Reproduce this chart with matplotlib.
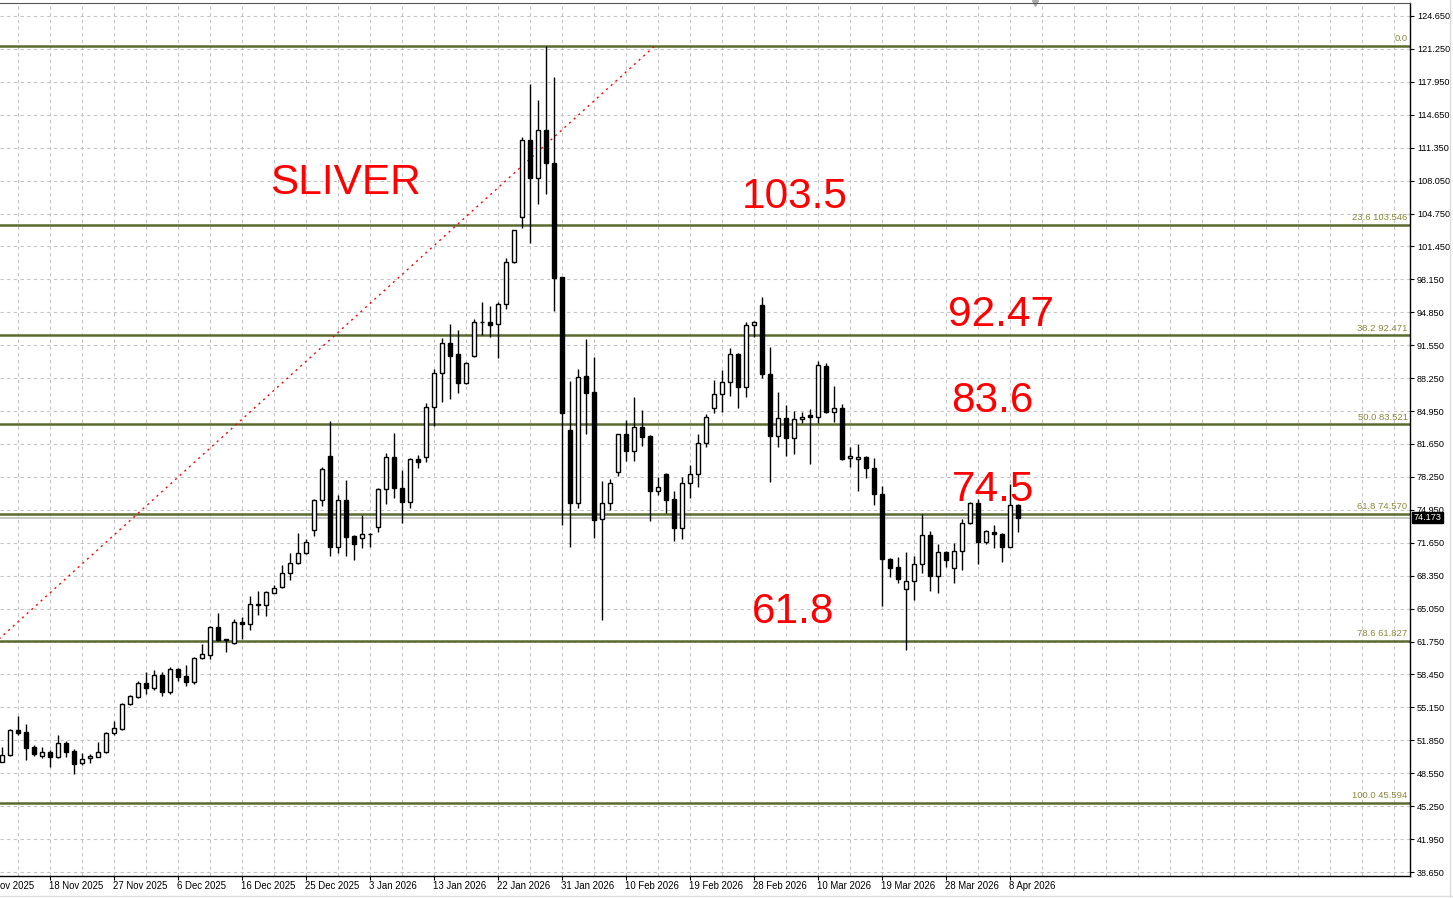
import matplotlib
matplotlib.use('Agg')
import matplotlib.pyplot as plt
from matplotlib.lines import Line2D

# daily candles, oldest first (index 0 = first bar on screen)
opens = [49.71, 50.35, 52.88, 52.68, 51.15, 50.31, 50.65, 50.18, 51.55, 50.78,
         49.55, 50.05, 50.21, 50.65, 52.55, 52.98, 55.46, 56.22, 57.56, 57.06,
         58.40, 56.66, 59.00, 58.30, 57.73, 60.07, 60.40, 63.18, 62.00, 61.58,
         63.68, 63.48, 65.50, 65.38, 66.65, 67.25, 68.65, 69.59, 70.60, 72.93,
         75.94, 80.35, 71.26, 75.94, 72.33, 72.10, 72.50, 73.20, 77.01, 80.22,
         77.11, 75.71, 80.01, 80.22, 85.23, 88.64, 91.65, 90.57, 87.70, 90.40,
         93.75, 93.75, 93.55, 95.56, 99.76, 104.34, 112.03, 108.18, 113.03, 109.69,
         98.26, 82.96, 75.67, 88.36, 86.73, 74.00, 75.61, 78.78, 82.53, 80.88,
         83.29, 82.35, 76.87, 78.55, 76.04, 73.09, 77.61, 78.51, 81.62, 85.13,
         86.53, 87.74, 90.57, 87.30, 93.48, 95.49, 88.54, 82.39, 84.13, 82.19,
         84.03, 84.46, 84.29, 89.37, 84.73, 85.13, 80.12, 80.05, 80.22, 79.12,
         76.54, 69.99, 69.19, 67.02, 67.82, 69.49, 72.43, 68.35, 70.70, 69.09,
         70.86, 73.60, 75.61, 71.76, 72.76, 72.53, 71.26, 75.44]
highs = [51.15, 52.98, 54.29, 53.49, 51.35, 51.15, 50.88, 52.38, 51.78, 50.98,
         50.55, 50.45, 51.71, 52.71, 53.79, 55.56, 56.39, 57.80, 58.67, 58.90,
         58.67, 59.17, 59.10, 59.40, 60.23, 61.47, 63.33, 64.64, 62.05, 64.01,
         64.24, 66.35, 66.82, 66.82, 67.42, 69.42, 70.60, 72.60, 72.00, 76.04,
         79.22, 83.86, 76.44, 77.94, 72.43, 74.44, 72.66, 77.10, 80.68, 82.69,
         78.95, 80.11, 80.45, 85.63, 89.05, 92.15, 93.58, 92.98, 89.80, 94.05,
         95.76, 95.42, 95.76, 100.16, 103.00, 112.30, 117.64, 116.06, 121.45, 118.31,
         98.30, 87.86, 89.07, 92.08, 90.24, 77.84, 78.04, 82.60, 83.96, 86.24,
         84.96, 82.50, 78.28, 78.60, 76.87, 78.28, 79.45, 82.52, 84.53, 87.97,
         88.97, 91.15, 90.70, 93.81, 93.91, 96.32, 91.25, 86.74, 85.46, 84.86,
         84.79, 85.06, 89.87, 89.70, 87.37, 85.56, 81.28, 81.55, 80.30, 80.12,
         77.37, 70.10, 70.26, 70.76, 70.36, 74.50, 72.83, 71.53, 70.86, 71.60,
         74.03, 75.77, 76.04, 72.90, 73.43, 72.60, 77.54, 75.55]
lows = [49.65, 50.30, 52.38, 49.88, 50.31, 50.11, 49.20, 50.11, 50.21, 48.47,
        49.38, 49.55, 50.15, 50.60, 52.38, 52.90, 55.40, 56.12, 56.46, 56.90,
        56.32, 56.49, 57.83, 57.33, 57.46, 59.97, 59.97, 61.85, 60.67, 61.50,
        62.01, 62.91, 64.41, 64.34, 66.60, 67.09, 67.92, 69.50, 70.50, 72.33,
        75.34, 70.36, 70.60, 70.36, 69.93, 71.16, 71.26, 72.76, 75.51, 76.17,
        73.66, 75.11, 79.18, 79.78, 83.36, 85.79, 86.06, 86.70, 87.60, 90.30,
        92.48, 92.25, 90.20, 95.05, 99.70, 103.17, 101.73, 105.58, 106.65, 94.91,
        73.43, 71.26, 75.17, 82.56, 72.09, 63.91, 74.94, 78.37, 79.88, 79.88,
        81.38, 73.86, 76.44, 74.61, 71.86, 71.99, 76.17, 77.21, 81.28, 84.69,
        84.79, 86.39, 85.13, 86.24, 92.25, 88.14, 77.77, 81.28, 80.38, 80.52,
        83.63, 79.52, 83.69, 84.70, 83.79, 79.95, 79.28, 76.87, 78.11, 75.44,
        65.34, 68.25, 67.59, 60.90, 65.92, 68.59, 66.85, 66.59, 69.20, 67.59,
        68.92, 73.50, 69.49, 71.50, 71.09, 69.69, 71.20, 72.76]
closes = [50.35, 52.88, 52.61, 51.11, 50.45, 50.65, 50.21, 51.55, 50.71, 49.51,
          49.95, 50.28, 50.65, 52.55, 53.05, 55.49, 56.29, 57.56, 57.06, 58.37,
          56.72, 58.97, 58.17, 57.73, 60.07, 60.47, 63.18, 61.91, 61.91, 63.68,
          63.48, 65.48, 65.38, 66.69, 67.09, 68.65, 69.59, 70.60, 71.70, 75.94,
          79.05, 71.26, 75.94, 72.26, 71.50, 72.50, 72.52, 77.01, 80.22, 77.11,
          75.71, 80.01, 79.78, 85.23, 88.64, 91.65, 90.37, 87.70, 89.64, 93.75,
          93.77, 93.48, 95.56, 99.76, 102.95, 112.03, 108.18, 113.03, 109.69, 98.16,
          84.63, 75.67, 88.30, 86.70, 73.93, 75.61, 77.61, 82.53, 80.88, 83.29,
          82.29, 76.87, 77.21, 75.94, 73.09, 77.61, 78.51, 81.62, 84.29, 86.53,
          87.74, 90.57, 87.30, 93.48, 93.75, 88.57, 82.39, 84.13, 82.19, 84.03,
          84.29, 84.29, 89.47, 84.73, 85.13, 80.05, 80.38, 80.22, 79.12, 76.51,
          69.99, 69.15, 67.98, 67.82, 69.49, 72.43, 68.35, 70.70, 69.93, 70.86,
          73.60, 75.61, 71.76, 72.86, 72.49, 71.26, 75.44, 74.17]

last_price = 74.173

# date axis
date_pos = [-2, 6, 14, 22, 30, 38, 46, 54, 62, 70, 78, 86, 94, 102, 110, 118, 126]
date_labels = ['9 Nov 2025', '18 Nov 2025', '27 Nov 2025', '6 Dec 2025', '16 Dec 2025',
               '25 Dec 2025', '3 Jan 2026', '13 Jan 2026', '22 Jan 2026', '31 Jan 2026',
               '10 Feb 2026', '19 Feb 2026', '28 Feb 2026', '10 Mar 2026', '19 Mar 2026',
               '28 Mar 2026', '8 Apr 2026']

# price axis
price_ticks = [38.65 + 3.3 * k for k in range(27)]
price_labels = ['38.650', '41.950', '45.250', '48.550', '51.850', '55.150', '58.450',
                '61.750', '65.050', '68.350', '71.650', '74.950', '78.250', '81.650',
                '84.950', '88.250', '91.550', '94.850', '98.150', '101.450', '104.750',
                '108.050', '111.350', '114.650', '117.950', '121.250', '124.650']

# fibonacci retracement
fib_low = 45.594
fib_high = 121.447
fib_ratios = [0.0, 23.6, 38.2, 50.0, 61.8, 78.6, 100.0]
fib_anchor = [-23, 81.6]

notes = ['SLIVER', '103.5', '92.47', '83.6', '74.5', '61.8']
note_x = [33.5, 92.5, 118.2, 118.7, 118.7, 93.7]
note_y = [106.6, 105.2, 93.4, 84.8, 75.85, 63.6]

small = 'Liberation Sans'

W, H = 1453, 898
fig = plt.figure(figsize=(W / 100, H / 100), dpi=100)
ax = fig.add_axes([0, 22 / H, 1410 / W, 873 / H])
ax.set_xlim(-0.25, 176)
ax.set_ylim(38.25, 125.75)

olive = '#5b6b2d'
for r in fib_ratios:
    lvl = fib_high - (fib_high - fib_low) * r / 100
    ax.axhline(lvl, color=olive, lw=1.8, zorder=2)
    lab = '%.1f' % r if r == 0 else '%.1f %.3f' % (r, lvl + 1e-6)
    ax.text(175.7, lvl + 0.25, lab, ha='right', va='bottom', fontsize=6.8,
            family=small, color='#8a8a3c', zorder=3)

ax.axhline(last_price, color='#bdbdbd', lw=1.2, zorder=2)

ax.plot(fib_anchor, [fib_low, fib_high], color='red', lw=1, ls=(0, (1.5, 3)), zorder=2)

n = len(opens)
xs = list(range(n))
ax.vlines(xs, lows, highs, color='black', lw=1, zorder=4)
for i in xs:
    o, c = opens[i], closes[i]
    up = c >= o
    ax.bar(i, max(abs(c - o), 0.05), bottom=min(o, c), width=0.62,
           facecolor='white' if up else 'black', edgecolor='black', lw=1, zorder=5)

for t, x, y in zip(notes, note_x, note_y):
    ax.text(x, y, t, fontsize=30.5, color='red', family='Liberation Sans',
            ha='left', va='baseline', zorder=6)

# grid
for gx in range(2, 176, 4):
    ax.axvline(gx, color='#c4c4c4', lw=0.8, ls=(0, (3, 3)), zorder=1)
for gy in price_ticks:
    ax.axhline(gy, color='#c4c4c4', lw=0.8, ls=(0, (3, 3)), zorder=1)

ax.yaxis.tick_right()
ax.set_yticks(price_ticks)
ax.set_yticklabels(price_labels, family=small)
ax.tick_params(axis='y', length=3, width=0.8, pad=2, labelsize=6.6, colors='black')
ax.set_xticks(date_pos[1:])
ax.set_xticklabels([])
ax.tick_params(axis='x', length=3, width=0.8)
for p, lab in zip(date_pos, date_labels):
    ax.text(p - 0.15, -0.006, lab, transform=ax.get_xaxis_transform(), ha='left',
            va='top', fontsize=6.9, family=small, clip_on=False)

ax.text(1.0025, last_price, '%.3f' % last_price, transform=ax.get_yaxis_transform(),
        ha='left', va='center', fontsize=6.6, family=small, color='white', clip_on=False,
        bbox=dict(boxstyle='square,pad=0.15', fc='black', ec='black'))

ax.spines['left'].set_visible(False)
ax.spines['top'].set_color('#555555')
ax.spines['right'].set_linewidth(1)
ax.spines['bottom'].set_linewidth(1)

# shift marker and window frame
ax.plot([1035 / 1410], [1.0], marker='v', ms=5, color='#aaaaaa',
        transform=ax.transAxes, clip_on=False)
fig.add_artist(Line2D([1450 / W, 1450 / W], [0, 1], color='#dddddd', lw=1))
fig.add_artist(Line2D([0, 1], [2 / H, 2 / H], color='#dddddd', lw=1))

fig.savefig('out.png', dpi=100)
